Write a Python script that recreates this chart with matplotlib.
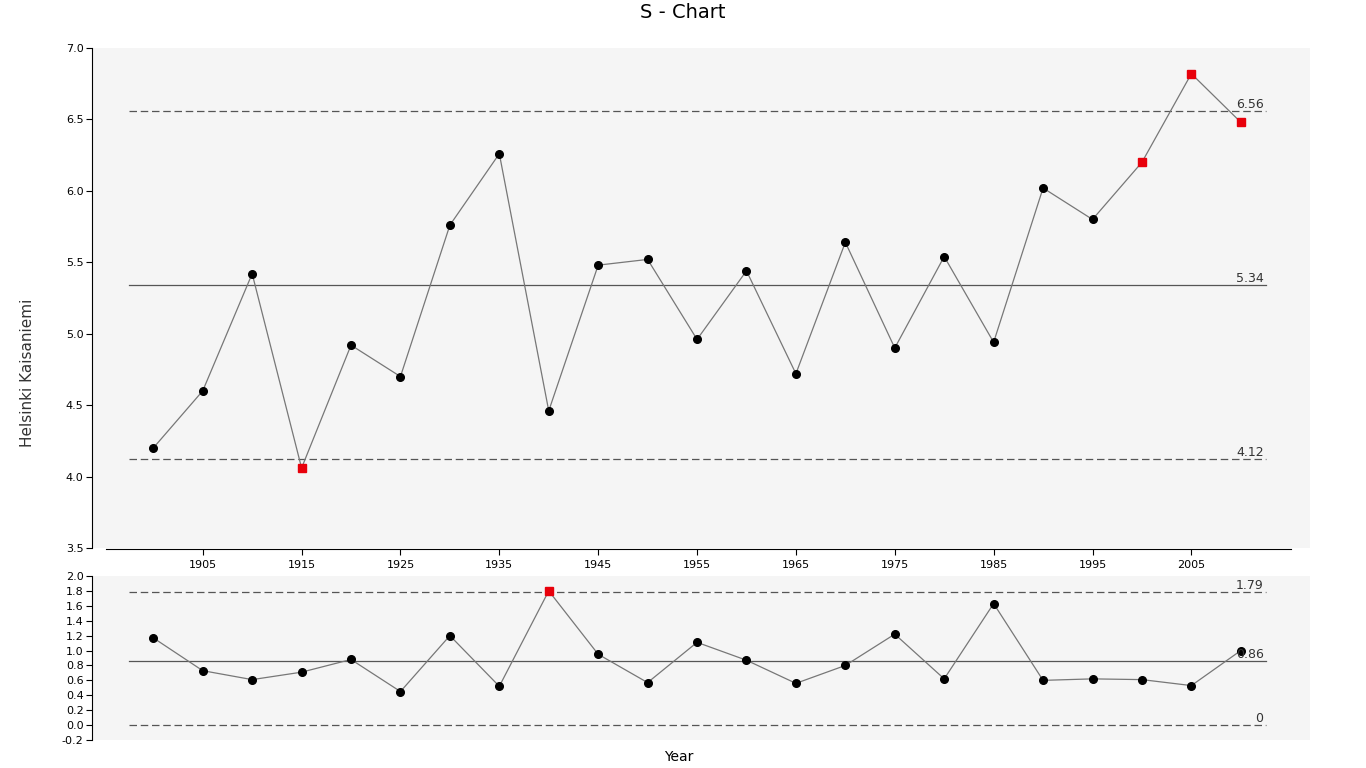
import matplotlib.pyplot as plt
import numpy as np

years = list(range(1900, 2011, 5))
xbar = [4.20, 4.60, 5.42, 4.06, 4.92, 4.70, 5.76, 6.26, 4.46, 5.48, 5.52, 4.96,
        5.44, 4.72, 5.64, 4.90, 5.54, 4.94, 6.02, 5.80, 6.20, 6.82, 6.48]
sdev = [1.17, 0.73, 0.61, 0.71, 0.88, 0.45, 1.20, 0.52, 1.80, 0.95, 0.57, 1.11,
        0.87, 0.56, 0.80, 1.22, 0.62, 1.63, 0.60, 0.62, 0.61, 0.53, 1.00]
xbar_limits = [4.12, 5.34, 6.56]
s_limits = [0.0, 0.86, 1.79]
xbar_red = [1915, 2000, 2005, 2010]
s_red = [1940]

W, H = 1366, 768
fig = plt.figure(figsize=(W / 100, H / 100), dpi=100)
ax1 = fig.add_axes([92 / W, 1 - 548 / H, 1218 / W, 500 / H])
ax2 = fig.add_axes([92 / W, 1 - 740 / H, 1218 / W, 164 / H])

xlim = (1893.8, 2017)
bg = "#f5f5f5"


def draw(ax, vals, limits, reds, ylim, yticks, fmt):
    ax.set_facecolor(bg)
    ax.set_xlim(*xlim)
    ax.set_ylim(*ylim)
    for i, lv in enumerate(limits):
        ls = "-" if i == 1 else (0, (6, 3))
        ax.plot([1897.5, 2012.5], [lv, lv], color="#555555", lw=0.9, ls=ls)
        ax.text(2012.3, lv, fmt(lv), ha="right", va="bottom", fontsize=9,
                color="#333333")
    ax.plot(years, vals, color="#777777", lw=0.9)
    for y, v in zip(years, vals):
        if y in reds:
            ax.plot(y, v, "s", color="#e8000b", ms=5.5)
        else:
            ax.plot(y, v, "o", color="black", ms=5.5)
    ax.set_yticks(yticks)
    ax.set_yticklabels([f"{t:.1f}" for t in yticks], fontsize=8)
    for s in ["top", "right", "bottom"]:
        ax.spines[s].set_visible(False)
    ax.tick_params(axis="y", length=4, pad=2)


draw(ax1, xbar, xbar_limits, xbar_red, (3.5, 7.0), np.arange(3.5, 7.01, 0.5),
     lambda v: f"{v:.2f}")
draw(ax2, sdev, s_limits, s_red, (-0.2, 2.0), np.arange(-0.2, 2.01, 0.2),
     lambda v: "0" if v == 0 else f"{v:.2f}")

ax1.spines["bottom"].set_visible(True)
ax1.spines["bottom"].set_bounds(1895.2, 2015.1)
ax1.spines["bottom"].set_position(("outward", 1))
ax1.set_xticks(range(1905, 2006, 10))
ax1.tick_params(axis="x", labelsize=8, length=4)
ax2.set_xticks([])

ax1.set_ylabel("Helsinki Kaisaniemi", fontsize=11, color="#333333")
ax1.yaxis.set_label_coords(-0.047, 0.35)
fig.text(0.5, 1.0 - 12 / H, "S - Chart", ha="center", va="center", fontsize=14)
fig.text(0.497, 1.0 - 757 / H, "Year", ha="center", va="center", fontsize=10)

fig.savefig("out.png", dpi=100)
